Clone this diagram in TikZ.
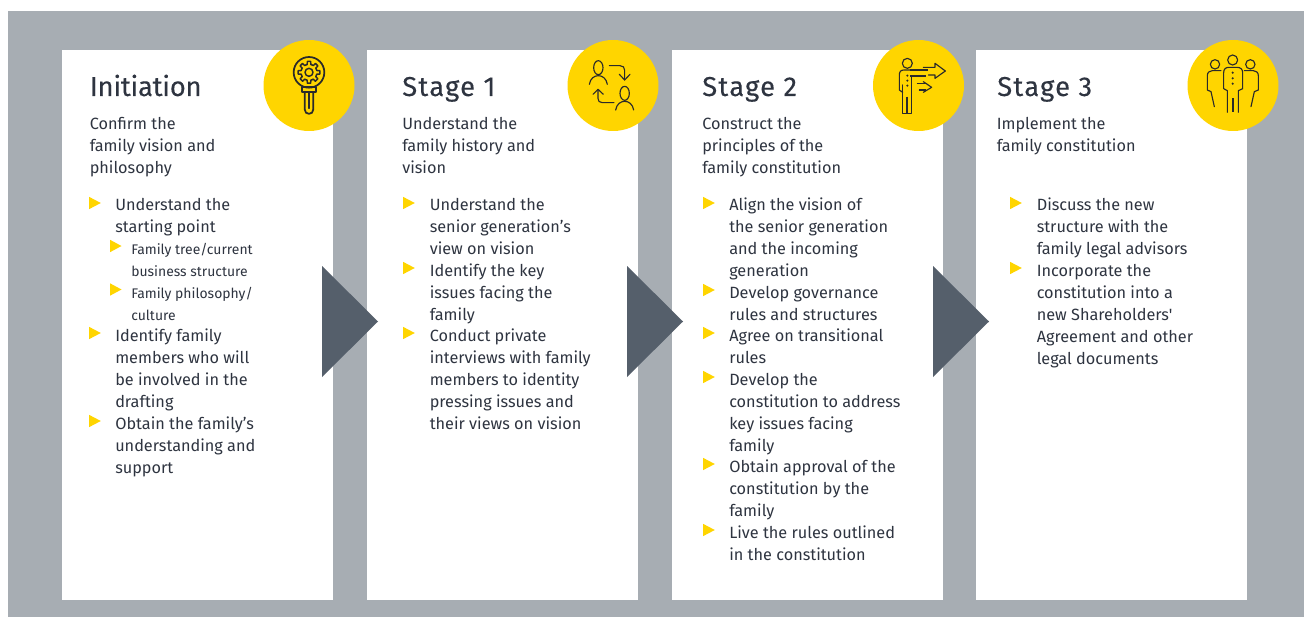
\documentclass[tikz,border=0pt]{standalone}
\usepackage{fontspec}
\setmainfont{Fira Sans}[Ligatures=TeXOff]
\newfontfamily\stagefont{Fira Sans}[FakeBold=0.12,LetterSpace=4.5]
\newfontfamily\initfont{Fira Sans}[FakeBold=0.12,LetterSpace=-0.8]
\definecolor{bandgray}{HTML}{A7ADB3}
\definecolor{eyyellow}{HTML}{FFD500}
\definecolor{arrowslate}{HTML}{555F6B}
\definecolor{inktext}{HTML}{2E3440}
\definecolor{iconink}{HTML}{2A2A2A}
\newcommand{\topstrut}{\rule{0pt}{12pt}}
\tikzset{
  card/.style={fill=white,draw=none},
  badge/.style={fill=eyyellow,draw=none},
  flowtri/.style={fill=arrowslate,draw=none},
  bulletmark/.style={fill=eyyellow,draw=none},
  headtext/.style={anchor=base west,inner sep=0pt,text=inktext,font=\fontsize{20.5}{24}\selectfont},
  bodytext/.style={anchor=north west,inner sep=0pt,yshift=-4.9pt,align=left,text=inktext,font=\fontsize{12.2}{16.5}\selectfont,execute at begin node={\topstrut}},
  subtext/.style={anchor=north west,inner sep=0pt,yshift=-4.5pt,align=left,text=inktext,font=\fontsize{10.45}{16.5}\selectfont,execute at begin node={\topstrut}},
  iconline/.style={draw=iconink,line width=0.85pt,line cap=round,line join=round},
  iconthick/.style={draw=iconink,line width=1.6pt},
  iconbox/.style={x=0.25pt,y=-0.25pt}
}
\newcommand{\bul}[2]{\fill[bulletmark] (#1,#2-6.2) -- (#1+11.8,#2) -- (#1,#2+6.2) -- cycle;}
\newcommand{\subbul}[2]{\fill[bulletmark] (#1,#2-6.2) -- (#1+11.5,#2) -- (#1,#2+6.2) -- cycle;}
\begin{document}
\begin{tikzpicture}[x=0.75pt,y=-0.75pt]
\useasboundingbox (0,0) rectangle (1304,617);
\fill[bandgray] (8,11) rectangle (1304,617);
% cards
\fill[card] (62,50) rectangle (333,600);
\fill[card] (367,50) rectangle (638,600);
\fill[card] (672,50) rectangle (943,600);
\fill[card] (976,50) rectangle (1247,600);
% flow triangles
\fill[flowtri] (322,266) -- (378,321.5) -- (322,377) -- cycle;
\fill[flowtri] (627,266) -- (683,321.5) -- (627,377) -- cycle;
\fill[flowtri] (933,266) -- (989,321.5) -- (933,377) -- cycle;
% badges
\fill[badge] (309,85.5) circle (45.5);
\fill[badge] (613,85.5) circle (45.5);
\fill[badge] (918.5,85.5) circle (45.5);
\fill[badge] (1233,85.5) circle (45.5);
% icon 1
\begin{scope}[shift={(250,30)},iconbox]
 \draw[iconline,line width=1.3pt] (177,127) circle (46);
 \draw[iconline,line width=1.1pt] (177,127) circle (12);
 \begin{scope}[shift={(177,127)}]
  \foreach \a in {0,45,...,315}
   \draw[iconline,line width=1.1pt] (\a-22.5:24) -- (\a-13:24) -- (\a-9:33) -- (\a+9:33) -- (\a+13:24) -- (\a+22.5:24);
 \end{scope}
 \draw[iconline,line width=1.3pt] (155,172) rectangle (198,187);
 \draw[iconline,line width=1.3pt] (164,187) -- (164,238) .. controls (164,256) and (190,256) .. (190,238) -- (190,187);
 \draw[iconline,line width=1.1pt] (177,190) -- (177,235);
\end{scope}
% icon 2
\begin{scope}[shift={(555,30)},iconbox]
 \draw[iconline] (130,113) ellipse (14 and 21);
 \draw[iconline] (103,163) .. controls (106,145) and (118,137) .. (130,137) .. controls (142,137) and (154,145) .. (157,163);
 \draw[iconline] (209,190) ellipse (14 and 21);
 \draw[iconline] (182,240) .. controls (185,222) and (197,214) .. (209,214) .. controls (221,214) and (233,222) .. (236,240);
 \draw[iconline] (163,107) -- (195,107) .. controls (204,107) and (209,112) .. (209,121) -- (209,150);
 \draw[iconline] (193,133) -- (209,150) -- (225,133);
 \draw[iconline] (177,218) -- (142,218) .. controls (133,218) and (129,213) .. (129,205) -- (129,178);
 \draw[iconline] (114,193) -- (129,178) -- (145,193);
\end{scope}
% icon 3
\begin{scope}[shift={(860,30)},iconbox]
 \draw[iconline] (142,100) circle (15);
 \draw[iconline] (128,187) -- (118,180) -- (118,135) .. controls (118,125) and (122,120) .. (132,120) -- (190,120);
 \draw[iconthick] (150,120) -- (205,120);
 \draw[iconthick] (150,137) -- (197,137);
 \draw[iconline] (128,165) -- (128,250) -- (155,250) -- (155,137);
 \draw[iconthick] (142,200) -- (142,250);
 \fill[iconink] (142,137) circle (3.5) (142,152) circle (3.5) (142,167) circle (3.5);
 \draw[iconline] (190,112) -- (225,112) -- (225,100) -- (256,123) -- (225,145) -- (225,135) -- (205,135);
 \draw[iconline] (172,160) -- (200,160);
 \draw[iconline] (178,180) -- (197,180);
 \draw[iconline] (190,155) -- (215,172) -- (190,187);
\end{scope}
% icon 4
\begin{scope}[shift={(1175,30)},iconbox]
 \draw[iconline] (173,90) circle (15);
 \draw[iconline] (120,103) circle (14);
 \draw[iconline] (226,103) circle (14);
 \draw[iconline] (157,247) -- (157,182) -- (146,176) -- (146,128) .. controls (146,117) and (152,112) .. (162,112) -- (186,112) .. controls (196,112) and (203,117) .. (203,128) -- (203,176) -- (190,182) -- (190,247);
 \draw[iconthick] (173,205) -- (173,247);
 \fill[iconink] (173,128) circle (3.5) (173,145) circle (3.5) (173,161) circle (3.5);
 \draw[iconline] (118,230) -- (108,185) -- (97,180) -- (97,137) .. controls (97,127) and (104,122) .. (112,122) -- (138,122);
 \draw[iconline] (228,230) -- (238,185) -- (250,180) -- (250,137) .. controls (250,127) and (243,122) .. (235,122) -- (208,122);
\end{scope}
% card 1
\node[headtext] (h0) at (89.5,96) {\initfont Initiation};
\node[bodytext] (i0) at (89.5,110.5) {Confirm the\\family vision and\\philosophy};
\bul{89}{203}\node[bodytext] (a1) at (115,191.5) {Understand the\\starting point};
\subbul{110}{246}\node[subtext] (a2) at (131,236.5) {Family tree/current\\business structure};
\subbul{110}{289.5}\node[subtext] (a3) at (131,280.5) {Family philosophy/\\culture};
\bul{89}{333}\node[bodytext] (a4) at (115,322) {Identify family\\members who will\\be involved in the\\drafting};
\bul{89}{421}\node[bodytext] (a5) at (115,410) {Obtain the family’s\\understanding and\\support};
% card 2
\node[headtext] (h1) at (402,96) {\stagefont Stage 1};
\node[bodytext] (i1) at (402,110.5) {Understand the\\family history and\\vision};
\bul{403}{203}\node[bodytext] (b1) at (429.5,191.5) {Understand the\\senior generation’s\\view on vision};
\bul{403}{268}\node[bodytext] (b2) at (429.5,257.5) {Identify the key\\issues facing the\\family};
\bul{403}{333}\node[bodytext] (b3) at (429.5,322) {Conduct private\\interviews with family\\members to identity\\pressing issues and\\their views on vision};
% card 3
\node[headtext] (h2) at (702,96) {\stagefont Stage 2};
\node[bodytext] (i2) at (702,110.5) {Construct the\\principles of the\\family constitution};
\bul{703}{203}\node[bodytext] (c1) at (729,191.5) {Align the vision of\\the senior generation\\and the incoming\\generation};
\bul{703}{290}\node[bodytext] (c2) at (729,279.5) {Develop governance\\rules and structures};
\bul{703}{333}\node[bodytext] (c3) at (729,322) {Agree on transitional\\rules};
\bul{703}{377}\node[bodytext] (c4) at (729,366) {Develop the\\constitution to address\\key issues facing\\family};
\bul{703}{464}\node[bodytext] (c5) at (729,453) {Obtain approval of the\\constitution by the\\family};
\bul{703}{530}\node[bodytext] (c6) at (729,519) {Live the rules outlined\\in the constitution};
% card 4
\node[headtext] (h3) at (997,96) {\stagefont Stage 3};
\node[bodytext] (i3) at (996.5,110.5) {Implement the\\family constitution};
\bul{1010}{203}\node[bodytext] (d1) at (1036.5,191.5) {Discuss the new\\structure with the\\family legal advisors};
\bul{1010}{268}\node[bodytext] (d2) at (1036.5,257.5) {Incorporate the\\constitution into a\\new Shareholders'\\Agreement and other\\legal documents};
\end{tikzpicture}
\end{document}
